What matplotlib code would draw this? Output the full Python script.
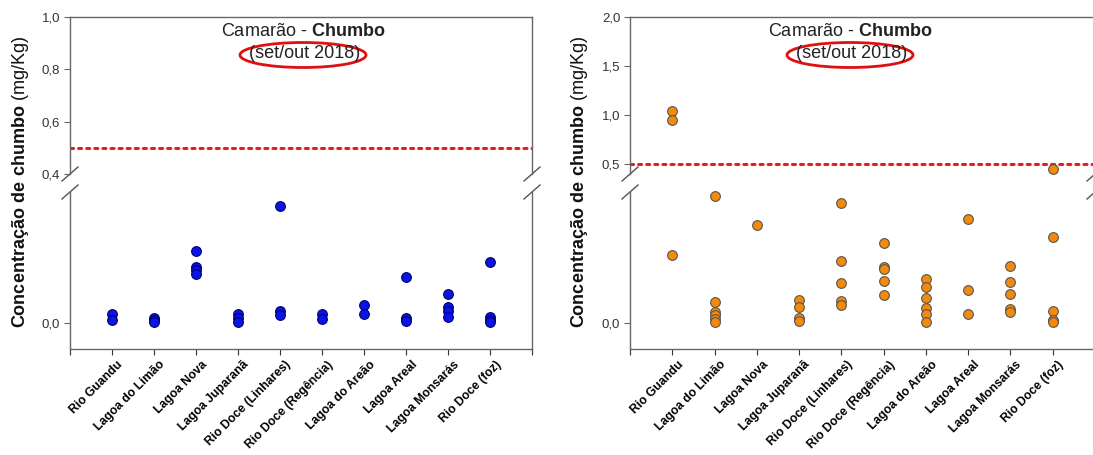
import matplotlib.pyplot as plt
from matplotlib.patches import Ellipse
from matplotlib.transforms import ScaledTranslation

plt.rcParams['font.family'] = ['Liberation Sans', 'DejaVu Sans']
plt.rcParams['mathtext.fontset'] = 'custom'
plt.rcParams['mathtext.rm'] = 'Liberation Sans'
plt.rcParams['mathtext.bf'] = 'Liberation Sans:bold'

# locais de coleta
locais = ['Rio Guandu', 'Lagoa do Limão', 'Lagoa Nova', 'Lagoa Juparanã',
          'Rio Doce (Linhares)', 'Rio Doce (Regência)', 'Lagoa do Areão',
          'Lagoa Areal', 'Lagoa Monsarás', 'Rio Doce (foz)']

# painel esquerdo (mg/Kg) - parte de baixo do eixo quebrado
esq_baixo = [[0.014, 0.005], [0.008, 0.005, 0.002], [0.110, 0.085, 0.081, 0.075],
             [0.014, 0.008, 0.002], [0.179, 0.018, 0.012], [0.014, 0.006],
             [0.027, 0.014], [0.070, 0.008, 0.003], [0.044, 0.024, 0.018, 0.009],
             [0.093, 0.009, 0.005, 0.002]]
esq_cima = [[], [], [], [], [], [], [], [], [], []]

# painel direito (mg/Kg)
dir_baixo = [[0.104], [0.194, 0.032, 0.017, 0.012, 0.006, 0.002], [0.150],
             [0.035, 0.024, 0.008, 0.003], [0.183, 0.095, 0.061, 0.034, 0.027],
             [0.122, 0.085, 0.082, 0.064, 0.043], [0.067, 0.055, 0.038, 0.023, 0.014, 0.002],
             [0.159, 0.050, 0.014], [0.087, 0.063, 0.044, 0.021, 0.017],
             [0.131, 0.018, 0.005, 0.002]]
dir_cima = [[1.04, 0.95], [], [], [], [], [], [], [], [], [0.45]]

limite = 0.5  # limite maximo permitido
esq_ticks = [0.4, 0.6, 0.8, 1.0]
dir_ticks = [0.5, 1.0, 1.5, 2.0]

W, H = 1093, 455
fig = plt.figure(figsize=(W / 100, H / 100), dpi=100)


def rect(x0, x1, y0, y1):
    return [x0 / W, 1 - y1 / H, (x1 - x0) / W, (y1 - y0) / H]


def fmt(v):
    return ('%.1f' % v).replace('.', ',')


def painel(x0, x1, cima, baixo, ylim_cima, ticks, cor, borda):
    ax1 = fig.add_axes(rect(x0, x1, 17, 174))
    ax2 = fig.add_axes(rect(x0, x1, 192, 349))
    for ax in (ax1, ax2):
        ax.set_xlim(0, 11)
        for s in ax.spines.values():
            s.set_color('#666666')
            s.set_linewidth(1)
        ax.tick_params(axis='y', direction='out', length=4, color='#666666',
                       labelsize=9.5, labelcolor='#333333', pad=3)
    ax1.spines['bottom'].set_visible(False)
    ax2.spines['top'].set_visible(False)
    ax1.set_xticks([])
    ax1.set_ylim(*ylim_cima)
    ax1.set_yticks(ticks)
    ax1.set_yticklabels([fmt(t) for t in ticks])
    ax2.set_ylim(-0.04, 0.2)
    ax2.set_yticks([0.0])
    ax2.set_yticklabels(['0,0'])
    ax2.set_xticks(range(12))
    ax2.set_xticklabels([''] + locais + [''], rotation=45, ha='right',
                        rotation_mode='anchor', fontsize=8.7, fontweight='bold')
    ax2.tick_params(axis='x', direction='out', length=4, color='#333333', pad=3)
    desloc = ScaledTranslation(5 / 100, 0, fig.dpi_scale_trans)
    for lab in ax2.get_xticklabels():
        lab.set_transform(lab.get_transform() + desloc)

    ax1.axhline(limite, color='#e02020', ls=':', lw=2.2, dash_capstyle='round')

    for i in range(len(locais)):
        if cima[i]:
            ax1.plot([i + 1] * len(cima[i]), cima[i], 'o', ms=7, mfc=cor,
                     mec=borda, mew=0.8, clip_on=False)
        ax2.plot([i + 1] * len(baixo[i]), baixo[i], 'o', ms=7, mfc=cor,
                 mec=borda, mew=0.8, clip_on=False)

    # marcas da quebra do eixo
    dx = 8 / (x1 - x0)
    dy = 7 / 157
    for xs in (0, 1):
        ax1.plot([xs - dx, xs + dx], [-dy, dy], color='#555555', lw=1,
                 transform=ax1.transAxes, clip_on=False)
        ax2.plot([xs - dx, xs + dx], [1 - dy, 1 + dy], color='#555555', lw=1,
                 transform=ax2.transAxes, clip_on=False)
    return ax1, ax2


painel(70, 532, esq_cima, esq_baixo, (0.4, 1.0), esq_ticks, '#0a14e6', '#000070')
painel(630, 1095, dir_cima, dir_baixo, (0.4, 2.0), dir_ticks, '#f58a0a', '#555555')

# titulos e rotulos
for cx, lx in ((303, 21), (850, 579)):
    fig.text(cx / W, 1 - 31 / H, r'Camarão - $\mathbf{Chumbo}$', ha='center',
             va='center', fontsize=13, color='#222222')
    fig.text(cx / W + 2 / W, 1 - 53 / H, '(set/out 2018)', ha='center', va='center',
             fontsize=13, color='#222222')
    fig.patches.append(Ellipse((cx / W, 1 - 55 / H), 126 / W, 25 / H,
                               transform=fig.transFigure, fill=False,
                               edgecolor='#e01010', lw=2))
    fig.text(lx / W, 1 - 182 / H, r'$\mathbf{Concentração\ de\ chumbo}$ (mg/Kg)',
             rotation=90, ha='center', va='center', fontsize=13, color='#111111')

fig.savefig('out.png', dpi=100)
